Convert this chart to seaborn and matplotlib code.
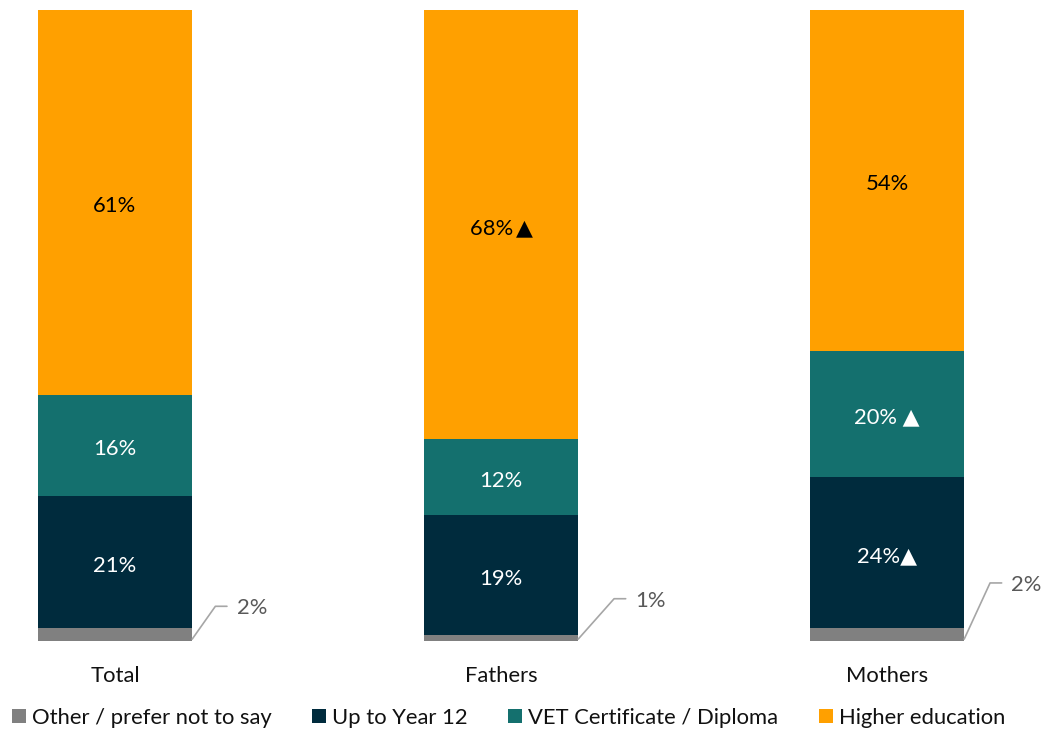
import numpy as np
import pandas as pd
import matplotlib
matplotlib.use("Agg")
import matplotlib.pyplot as plt
import seaborn as sns
from matplotlib.lines import Line2D

# Data
groups = ["Total", "Fathers", "Mothers"]
series = ["Other / prefer not to say", "Up to Year 12",
          "VET Certificate / Diploma", "Higher education"]
other = [2, 1, 2]
year12 = [21, 19, 24]
vet = [16, 12, 20]
higher = [61, 68, 54]
# significance markers appended to labels
year12_sig = ["", "", "▲"]
vet_sig = ["", "", " ▲"]
higher_sig = ["", "\u2009▲", ""]

colors = ["#808080", "#002b3d", "#14706e", "#ffa000"]

sns.set_theme(style="white")
plt.rcParams['font.family'] = ['Lato', 'DejaVu Sans']
FS = 15.8

values = [other, year12, vet, higher]
cum = np.cumsum(np.array(values), axis=0)

fig = plt.figure(figsize=(10.45, 7.33), dpi=100)
ax = fig.add_axes([0, 1 - 641 / 733, 1, 631 / 733])

# layered cumulative bars, tallest first
for k in range(len(series) - 1, -1, -1):
    df = pd.DataFrame({"group": groups, "value": cum[k]})
    sns.barplot(data=df, x="group", y="value", color=colors[k], width=0.4,
                saturation=1, ax=ax, linewidth=0)

ax.set_xlim(-115 / 386, (1045 - 115) / 386)
ax.set_ylim(0, 100)
sns.despine(ax=ax, left=True, bottom=True)
ax.set_yticks([])
ax.set_ylabel("")
ax.set_xlabel("")
ax.tick_params(axis="x", length=0, pad=18, labelsize=FS, labelcolor="#111111")

# labels inside bars
sigs = [None, year12_sig, vet_sig, higher_sig]
txt_colors = [None, "white", "white", "black"]
for k in range(1, len(series)):
    for i in range(len(groups)):
        base = cum[k - 1][i]
        v = values[k][i]
        ax.text(i, base + v / 2 - 0.3, f"{v}%" + sigs[k][i], ha="center",
                va="center_baseline", fontsize=FS, color=txt_colors[k])

# leader lines for the small segment
offsets = [(0.06, 5.5), (0.093, 6.7), (0.067, 9.2)]
for i, v in enumerate(other):
    x0 = i + 0.2
    dx, y1 = offsets[i]
    ax.plot([x0, x0 + dx, x0 + dx + 0.03], [0.3, y1, y1], color="#a6a6a6",
            lw=1.2, clip_on=False)
    ax.text(x0 + dx + 0.055, y1, f"{v}%", ha="left", va="center_baseline",
            fontsize=FS, color="#595959")

handles = [Line2D([], [], marker="s", linestyle="", markersize=10,
                  markerfacecolor=c, markeredgewidth=0) for c in colors]
fig.legend(handles, series, loc="center left",
           bbox_to_anchor=(11.5 / 1045, 1 - 718 / 733),
           ncol=4, frameon=False, fontsize=FS, handlelength=0.7,
           handletextpad=0.25, columnspacing=1.8, borderpad=0,
           borderaxespad=0, labelcolor="#111111")

fig.savefig("out.png", dpi=100)
